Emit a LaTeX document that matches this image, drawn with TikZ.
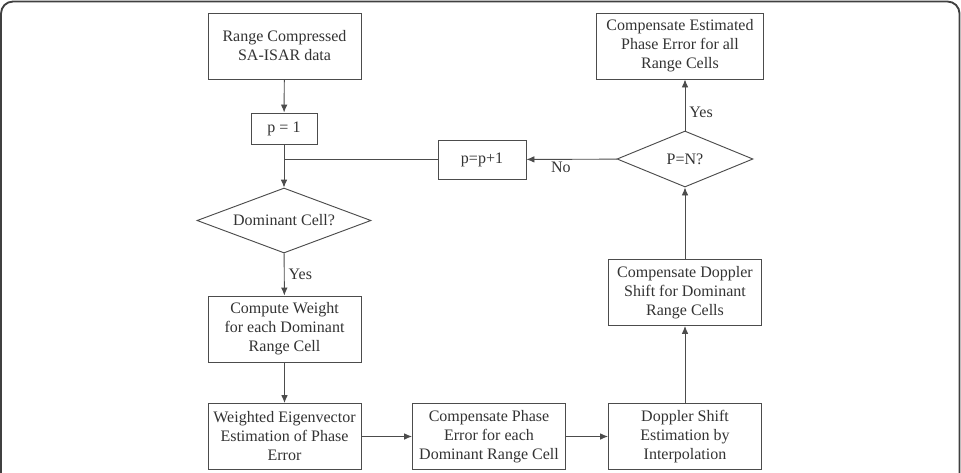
\documentclass[tikz,border=0pt]{standalone}
\usepackage{fontspec}
\setmainfont{Liberation Serif}
\usetikzlibrary{arrows.meta,shapes.geometric}

\begin{document}
\begin{tikzpicture}[x=0.75pt, y=-0.75pt,
    every node/.style={text=black!80, font=\fontsize{12}{14.25}\selectfont},
    block/.style={draw=black!70, line width=0.7pt, fill=white, align=center, inner sep=2pt, minimum width=114.75pt, minimum height=49.5pt},
    small/.style={block, minimum width=49.5pt, minimum height=23.25pt},
    decision/.style={diamond, draw=black!70, line width=0.7pt, fill=white, inner sep=0pt, aspect=2.6},
    flow/.style={draw=black!70, line width=0.7pt, -{Latex[length=6pt,width=5pt]}},
    plain/.style={draw=black!70, line width=0.7pt}]
    \path[use as bounding box] (0,0) rectangle (961,472);
    \begin{scope}
        \clip (0,0) rectangle (961,472);
        \draw[black!75, line width=1.4pt, rounded corners=9pt] (1,1.5) rectangle (959.5,530);
    \end{scope}

    \node[block] (start) at (284.5,46)  {Range Compressed\\SA-ISAR data};
    \node[small] (p1)    at (284,128.5) {p = 1};
    \node[decision, minimum width=130.5pt, minimum height=48.75pt] (dom) at (284,220.5) {Dominant Cell?};
    \node[block] (weight) at (284.5,329) {Compute Weight\\for each Dominant\\Range Cell};
    \node[block] (eig)    at (284.5,436.5) {Weighted Eigenvector\\Estimation of Phase\\Error};
    \node[block] (comp)   at (489,436.5) {Compensate Phase\\Error for each\\Dominant Range Cell};
    \node[block] (dopp)   at (685,436.5) {Doppler Shift\\Estimation by\\Interpolation};
    \node[block] (cdopp)  at (685,292.5) {Compensate Doppler\\Shift for Dominant\\Range Cells};
    \node[decision, minimum width=102pt, minimum height=42pt] (pn) at (685,159) {P=N?};
    \node[block, minimum width=125.25pt] (est) at (680,46) {Compensate Estimated\\Phase Error for all\\Range Cells};
    \node[small, minimum width=66pt, minimum height=29.25pt] (pinc) at (482,159.5) {p=p+1};
    \coordinate (join) at (284,159.5);

    \draw[flow] (start) -- (p1);
    \draw[flow] (p1) -- (dom);
    \draw[plain] (pinc) -- (join);
    \draw[flow] (dom) -- node[right, inner sep=3pt] {Yes} (weight);
    \draw[flow] (weight) -- (eig);
    \draw[flow] (eig) -- (comp);
    \draw[flow] (comp) -- (dopp);
    \draw[flow] (dopp) -- (cdopp);
    \draw[flow] (cdopp) -- (pn);
    \draw[flow] (pn) -- node[right, pos=0.35, inner sep=3pt] {Yes} (pn |- est.south);
    \draw[flow] (pn) -- node[below, pos=0.62, inner sep=2pt] {No} (pinc);
    \end{tikzpicture}
\end{document}
